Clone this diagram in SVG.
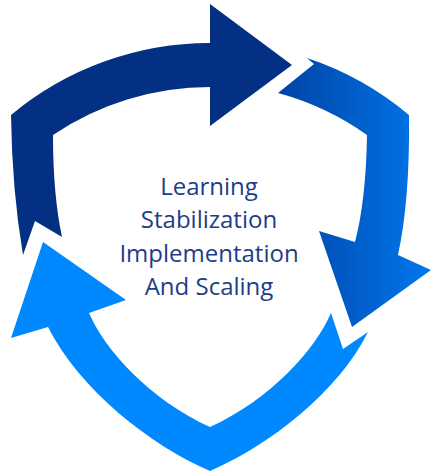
<svg xmlns="http://www.w3.org/2000/svg" width="431" height="474" viewBox="0 0 431 474">
  <defs>
    <linearGradient id="gRight" gradientUnits="userSpaceOnUse" x1="277" y1="0" x2="431" y2="0">
      <stop offset="0" stop-color="#0043A3"/>
      <stop offset="1" stop-color="#0078EE"/>
    </linearGradient>
    <style>
      .lbl { font-family: "Open Sans", "Liberation Sans", sans-serif; font-size: 24px; fill: #1F3C88; text-anchor: middle; }
    </style>
  </defs>
  <rect width="431" height="474" fill="#FFFFFF"/>
  <g id="connectors">
    <path id="arrow-top" fill="#033083" d="M210,43 L210,4 L292,65 L210,126 L210,87 A281,281 0 0 0 53,135 Q53,195 62,237 L35,221 L23,255 Q12,190 11,115 A311,311 0 0 1 210,43 Z"/>
    <path id="arrow-right" fill="url(#gRight)" d="M307,58 A311,311 0 0 1 409,115 Q410,200 398,255 L431,270 L352,327 L319,231 L355,242 Q366,200 367,135 A281,281 0 0 0 278,93 L314,64 Z"/>
    <path id="arrow-bottom" fill="#0088FF" d="M368,332 C338,392 270,445 210,471 C150,445 80,390 48,327 L11,338 L43,242 L126,300 L89,313 C105,350 150,400 210,427 C270,400 315,350 331,313 L343,349 Z"/>
  </g>
  <g id="center-label">
    <text class="lbl" x="209" y="195">Learning</text>
    <text class="lbl" x="209" y="228">Stabilization</text>
    <text class="lbl" x="209" y="262">Implementation</text>
    <text class="lbl" x="209" y="295">And Scaling</text>
  </g>
</svg>
